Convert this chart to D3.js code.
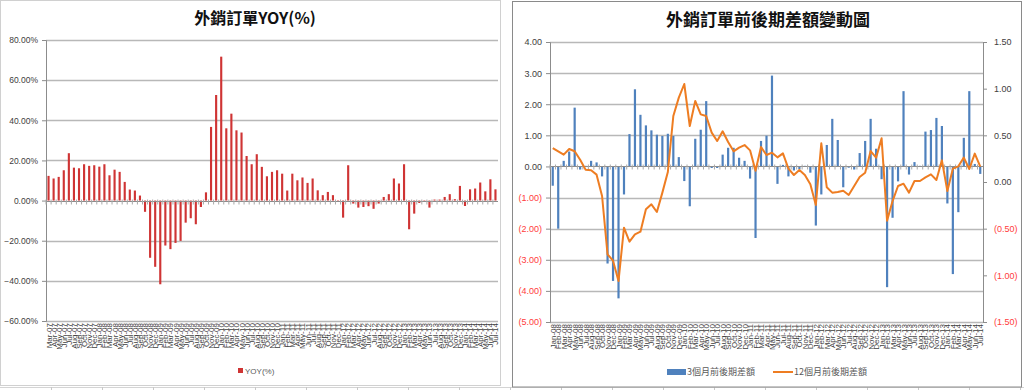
<!DOCTYPE html>
<html>
<head>
<meta charset="utf-8">
<script src="https://cdn.jsdelivr.net/npm/d3@7"></script>
<style>
  body { margin: 0; background: #fff; }
  svg { display: block; font-family: "Liberation Sans", Arial, sans-serif; }
</style>
</head>
<body>
<div id="vis"></div>
<script>
// Frame
const FRAME_WIDTH = 1024;
const FRAME_HEIGHT = 390;

// ---- data: left chart, 外銷訂單 YOY(%), Mar-07 .. Jul-14
const YOY_FIRST = new Date(2007, 2, 1);
const YOY_END = new Date(2014, 7, 1);
const YOY_VALUES = [
  12.3, 11.0, 11.8, 15.1, 23.6, 16.4, 16.1, 18.1, 17.3, 17.6,
  16.9, 18.1, 12.6, 15.4, 14.3, 9.3, 5.5, 5.0, 2.5, -5.6,
  -28.5, -33.0, -41.7, -22.4, -24.2, -21.1, -20.1, -11.0, -8.8, -11.8,
  -3.2, 4.1, 36.7, 52.6, 71.7, 36.0, 43.3, 35.0, 33.9, 22.2,
  18.1, 23.1, 16.8, 12.1, 14.3, 15.1, 13.4, 5.0, 13.4, 10.1,
  11.5, 8.8, 11.0, 5.1, 2.7, 4.3, 2.7, -0.5, -8.5, 17.6,
  -1.5, -3.5, -3.2, -2.8, -4.1, -1.5, 1.8, 3.2, 11.0, 8.5,
  18.1, -14.3, -6.5, -1.2, -0.5, -3.5, 0.5, 0.5, 1.8, 3.2,
  0.7, 7.3, -2.7, 5.6, 6.0, 9.0, 4.6, 10.6, 5.6
];
const YOY_TICKS = [-60, -40, -20, 0, 20, 40, 60, 80];

// ---- data: right chart, 前後期差額, Jan-08 .. Jul-14
const DIFF_FIRST = new Date(2008, 0, 1);
const DIFF_END = new Date(2014, 7, 1);
const DIFF3_VALUES = [
  -0.62, -2.0, 0.18, 0.48, 1.89, -0.1, 0.02, 0.18, 0.13, -0.32,
  -3.12, -3.68, -4.24, -0.9, 1.04, 2.48, 1.66, 1.32, 1.16, 1.02,
  0.98, 1.05, 0.98, 0.3, -0.47, -1.28, 0.89, 1.18, 2.1, -0.05,
  -0.05, 0.38, 0.6, 0.6, 0.28, 0.18, -0.39, -2.3, 0.82, 0.99,
  2.92, -0.56, 0.05, -0.32, -0.13, -0.09, 0.02, -0.2, -1.9, -0.9,
  0.69, 1.53, 0.85, -0.67, -0.04, -0.1, 0.43, 0.82, 1.53, 0.57,
  -0.41, -3.88, -1.65, -0.48, 2.42, -0.26, 0.14, 0.02, 1.12, 1.17,
  1.56, 1.3, -1.19, -3.46, -1.47, 0.92, 2.42, 0.08, -0.24
];
const DIFF12_VALUES = [
  0.364, 0.329, 0.293, 0.354, 0.329, 0.239, 0.132, 0.125, 0.079, -0.15,
  -0.775, -0.843, -1.061, -0.489, -0.639, -0.561, -0.532, -0.293, -0.239, -0.321,
  -0.114, 0.107, 0.707, 0.904, 1.05, 0.6, 0.868, 0.725, 0.707, 0.529,
  0.439, 0.543, 0.429, 0.329, 0.368, 0.396, 0.339, 0.121, 0.375, 0.289,
  0.314, 0.264, 0.307, 0.143, 0.075, 0.129, 0.075, -0.025, -0.246, 0.414,
  -0.057, -0.114, -0.107, -0.093, -0.139, -0.043, 0.054, 0.1, 0.332, 0.261,
  0.468, -0.414, -0.204, -0.043, -0.018, -0.114, 0.011, 0.011, 0.05, 0.082,
  0.021, 0.232, -0.096, 0.143, 0.168, 0.261, 0.139, 0.304, 0.164
];
const LEFT_TICKS = [-5, -4, -3, -2, -1, 0, 1, 2, 3, 4];
const RIGHT_TICKS = [-1.5, -1, -0.5, 0, 0.5, 1, 1.5];

// month labels like "Mar-07"
const MONTH_FMT = d3.timeFormat("%b-%y");
const YOY_MONTHS = d3.timeMonth.range(YOY_FIRST, YOY_END).map(MONTH_FMT);
const DIFF_MONTHS = d3.timeMonth.range(DIFF_FIRST, DIFF_END).map(MONTH_FMT);

const GRID_COLOR = "#b8b8b8";
const AXIS_COLOR = "#8c8c8c";
const TEXT_COLOR = "#404040";
const NEG_COLOR = "#ff3c3c";

const SVG = d3.select("#vis")
  .append("svg")
    .attr("width", FRAME_WIDTH)
    .attr("height", FRAME_HEIGHT);

SVG.append("rect")
  .attr("width", FRAME_WIDTH)
  .attr("height", FRAME_HEIGHT)
  .attr("fill", "#fff");

// spreadsheet column marks under the charts
SVG.append("line")
  .attr("x1", 0).attr("x2", FRAME_WIDTH)
  .attr("y1", 387.5).attr("y2", 387.5)
  .attr("stroke", "#d4d4d4");
SVG.selectAll(".colmark")
  .data(d3.range(51, FRAME_WIDTH, 51))
  .enter()
  .append("line")
    .attr("x1", (d) => d + 0.5).attr("x2", (d) => d + 0.5)
    .attr("y1", 387).attr("y2", 390)
    .attr("stroke", "#c8c8c8");

// panel frames
SVG.append("rect")
  .attr("x", 0.5).attr("y", 0.5)
  .attr("width", 500).attr("height", 385)
  .attr("fill", "#fff")
  .attr("stroke", "#d0d0d0");
SVG.append("rect")
  .attr("x", 512.5).attr("y", 1.5)
  .attr("width", 509).attr("height", 385.5)
  .attr("fill", "#fff")
  .attr("stroke", "#8a8a8a");

// helper: gridlines for a value scale
function gridlines(g, scale, ticks, x0, x1) {
  g.selectAll(".grid")
    .data(ticks)
    .enter()
    .append("line")
      .attr("x1", x0).attr("x2", x1)
      .attr("y1", (d) => Math.round(scale(d)) + 0.5)
      .attr("y2", (d) => Math.round(scale(d)) + 0.5)
      .attr("stroke", GRID_COLOR)
      .attr("stroke-width", 1.4);
}

// helper: category axis sitting at zero, with rotated month labels
function categoryAxis(g, xScale, y0, yLabel, labels) {
  const step = xScale.step();
  g.append("line")
    .attr("x1", xScale.range()[0]).attr("x2", xScale.range()[1])
    .attr("y1", y0).attr("y2", y0)
    .attr("stroke", AXIS_COLOR);
  g.selectAll(".ctick")
    .data(labels)
    .enter()
    .append("line")
      .attr("x1", (d) => xScale(d) - (step - xScale.bandwidth()) / 2)
      .attr("x2", (d) => xScale(d) - (step - xScale.bandwidth()) / 2)
      .attr("y1", y0 - 2).attr("y2", y0 + 3)
      .attr("stroke", "#a8a8a8");
  g.selectAll(".clabel")
    .data(labels)
    .enter()
    .append("text")
      .attr("transform", (d) => "translate(" + (xScale(d) + xScale.bandwidth() / 2 + 3) + "," + yLabel + ") rotate(-90)")
      .attr("text-anchor", "end")
      .attr("font-size", "8px")
      .attr("fill", TEXT_COLOR)
      .text((d) => d);
}

// ================= left chart =================
const L = {left: 46, right: 498, top: 40, bottom: 321};
const FRAME1 = SVG.append("g");

const X1 = d3.scaleBand()
  .domain(YOY_MONTHS)
  .range([L.left, L.right])
  .paddingInner(0.58)
  .paddingOuter(0.29);
const Y1 = d3.scaleLinear()
  .domain([-60, 80])
  .range([L.bottom, L.top]);

gridlines(FRAME1, Y1, YOY_TICKS.filter((d) => d !== 0), L.left, L.right);

FRAME1.append("g")
  .attr("transform", "translate(" + L.left + ",0)")
  .call(d3.axisLeft(Y1)
    .tickValues(YOY_TICKS)
    .tickSize(4)
    .tickPadding(4)
    .tickFormat((d) => d3.format(".2f")(d) + "%"))
  .call((g) => g.select(".domain").attr("stroke", AXIS_COLOR))
  .call((g) => g.selectAll(".tick line").attr("stroke", AXIS_COLOR))
  .call((g) => g.selectAll("text")
    .attr("font-size", "8.5px")
    .attr("font-family", "Liberation Sans, Arial, sans-serif")
    .attr("fill", TEXT_COLOR));

FRAME1.selectAll(".bar")
  .data(YOY_VALUES)
  .enter()
  .append("rect")
    .attr("class", "bar")
    .attr("x", (d, i) => X1(YOY_MONTHS[i]))
    .attr("width", X1.bandwidth())
    .attr("y", (d) => Y1(Math.max(0, d)))
    .attr("height", (d) => Math.abs(Y1(d) - Y1(0)))
    .attr("fill", "#cf3434");

categoryAxis(FRAME1, X1, Math.round(Y1(0)) + 0.5, L.bottom + 2, YOY_MONTHS);

FRAME1.append("text")
  .attr("x", 255).attr("y", 24)
  .attr("text-anchor", "middle")
  .attr("font-family", "Noto Sans CJK TC, sans-serif")
  .attr("font-weight", "bold")
  .attr("font-size", "16px")
  .attr("fill", "#111")
  .text("外銷訂單YOY(%)");

// legend
FRAME1.append("rect")
  .attr("x", 238).attr("y", 368)
  .attr("width", 5).attr("height", 5)
  .attr("fill", "#cf3434");
FRAME1.append("text")
  .attr("x", 245).attr("y", 374)
  .attr("font-size", "8px")
  .attr("fill", "#595959")
  .text("YOY(%)");

// ================= right chart =================
const R = {left: 550, right: 983, top: 42, bottom: 322};
const FRAME2 = SVG.append("g");

const X2 = d3.scaleBand()
  .domain(DIFF_MONTHS)
  .range([R.left, R.right])
  .paddingInner(0.6)
  .paddingOuter(0.3);
const Y2 = d3.scaleLinear()
  .domain([-5, 4])
  .range([R.bottom, R.top]);
const Y2R = d3.scaleLinear()
  .domain([-1.5, 1.5])
  .range([R.bottom, R.top]);

function acct(d) {
  return d < 0 ? "(" + d3.format(".2f")(-d) + ")" : d3.format(".2f")(d);
}

gridlines(FRAME2, Y2, LEFT_TICKS.filter((d) => d !== 0), R.left, R.right);

FRAME2.append("g")
  .attr("transform", "translate(" + R.left + ",0)")
  .call(d3.axisLeft(Y2)
    .tickValues(LEFT_TICKS)
    .tickSize(4)
    .tickPadding(4)
    .tickFormat(acct))
  .call((g) => g.select(".domain").attr("stroke", AXIS_COLOR))
  .call((g) => g.selectAll(".tick line").attr("stroke", AXIS_COLOR))
  .call((g) => g.selectAll("text")
    .attr("font-size", "9px")
    .attr("font-family", "Liberation Sans, Arial, sans-serif")
    .attr("fill", (d) => d < 0 ? NEG_COLOR : TEXT_COLOR));

FRAME2.append("g")
  .attr("transform", "translate(" + R.right + ",0)")
  .call(d3.axisRight(Y2R)
    .tickValues(RIGHT_TICKS)
    .tickSize(4)
    .tickPadding(7)
    .tickFormat(acct))
  .call((g) => g.select(".domain").attr("stroke", AXIS_COLOR))
  .call((g) => g.selectAll(".tick line").attr("stroke", AXIS_COLOR))
  .call((g) => g.selectAll("text")
    .attr("font-size", "9px")
    .attr("font-family", "Liberation Sans, Arial, sans-serif")
    .attr("fill", (d) => d < 0 ? NEG_COLOR : TEXT_COLOR));

FRAME2.selectAll(".bar")
  .data(DIFF3_VALUES)
  .enter()
  .append("rect")
    .attr("class", "bar")
    .attr("x", (d, i) => X2(DIFF_MONTHS[i]))
    .attr("width", X2.bandwidth())
    .attr("y", (d) => Y2(Math.max(0, d)))
    .attr("height", (d) => Math.abs(Y2(d) - Y2(0)))
    .attr("fill", "#4f81bd");

categoryAxis(FRAME2, X2, Math.round(Y2(0)) + 0.5, R.bottom + 2, DIFF_MONTHS);

const LINE = d3.line()
  .x((d, i) => X2(DIFF_MONTHS[i]) + X2.bandwidth() / 2)
  .y((d) => Y2R(d));

FRAME2.append("path")
  .datum(DIFF12_VALUES)
  .attr("d", LINE)
  .attr("fill", "none")
  .attr("stroke", "#ee7d22")
  .attr("stroke-width", 2)
  .attr("stroke-linejoin", "round");

FRAME2.append("text")
  .attr("x", 768).attr("y", 26)
  .attr("text-anchor", "middle")
  .attr("font-family", "Noto Sans CJK TC, sans-serif")
  .attr("font-weight", "bold")
  .attr("font-size", "17px")
  .attr("fill", "#111")
  .text("外銷訂單前後期差額變動圖");

// legend
FRAME2.append("rect")
  .attr("x", 667).attr("y", 369)
  .attr("width", 19).attr("height", 6)
  .attr("fill", "#4f81bd");
FRAME2.append("text")
  .attr("x", 687).attr("y", 375)
  .attr("font-family", "Noto Sans CJK TC, sans-serif")
  .attr("font-size", "9px")
  .attr("fill", "#595959")
  .text("3個月前後期差額");
FRAME2.append("line")
  .attr("x1", 773).attr("x2", 793)
  .attr("y1", 372).attr("y2", 372)
  .attr("stroke", "#ee7d22")
  .attr("stroke-width", 2);
FRAME2.append("text")
  .attr("x", 794).attr("y", 375)
  .attr("font-family", "Noto Sans CJK TC, sans-serif")
  .attr("font-size", "9px")
  .attr("fill", "#595959")
  .text("12個月前後期差額");
</script>
</body>
</html>
